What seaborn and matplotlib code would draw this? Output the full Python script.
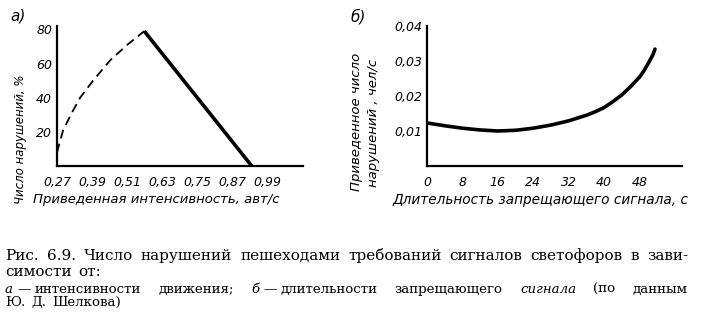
import matplotlib
matplotlib.use("Agg")
import matplotlib.pyplot as plt
import seaborn as sns
import pandas as pd

# ---- data (panel а) ----
a_dash_x = [0.27, 0.291, 0.32, 0.349, 0.393, 0.452, 0.51, 0.568]
a_dash_y = [8, 21, 31, 40, 50, 62, 71, 79]
a_solid_x = [0.568, 0.935]
a_solid_y = [79, 0]
a_xticks = [0.27, 0.39, 0.51, 0.63, 0.75, 0.87, 0.99]
a_xticklabels = ["0,27", "0,39", "0,51", "0,63", "0,75", "0,87", "0,99"]
a_yticks = [20, 40, 60, 80]
a_yticklabels = ["20", "40", "60", "80"]

# ---- data (panel б) ----
b_x = [0, 4, 8, 12, 16, 20, 24, 28, 32, 36, 38, 40, 42, 44, 46, 48, 49, 50, 51, 51.5]
b_y = [0.0123, 0.0115, 0.0108, 0.0103, 0.0100, 0.0102, 0.0108, 0.0117,
       0.0129, 0.0145, 0.0155, 0.0167, 0.0184, 0.0203, 0.0227, 0.0254,
       0.0272, 0.0294, 0.0317, 0.0334]
b_xticks = [0, 8, 16, 24, 32, 40, 48]
b_xticklabels = ["0", "8", "16", "24", "32", "40", "48"]
b_yticks = [0.01, 0.02, 0.03, 0.04]
b_yticklabels = ["0,01", "0,02", "0,03", "0,04"]

W, H = 704, 315
sns.set_theme(style="white")
plt.rcParams["font.family"] = ["DejaVu Sans"]
plt.rcParams["text.color"] = "black"

fig = plt.figure(figsize=(W / 100, H / 100), dpi=100)

def px_axes(x0, x1, ytop, ybot):
    return fig.add_axes([x0 / W, 1 - ybot / H, (x1 - x0) / W, (ybot - ytop) / H])

def style_axes(ax):
    for s in ["top", "right"]:
        ax.spines[s].set_visible(False)
    for s in ["left", "bottom"]:
        ax.spines[s].set_linewidth(1.6)
        ax.spines[s].set_color("black")
    ax.tick_params(direction="in", length=4, width=1.2, colors="black",
                   labelsize=9)
    ax.tick_params(axis="x", pad=7)
    ax.tick_params(axis="y", pad=3.5)
    for lab in ax.get_xticklabels() + ax.get_yticklabels():
        lab.set_fontstyle("italic")

# panel а
ax1 = px_axes(57, 303, 26, 166)
df_ad = pd.DataFrame({"x": a_dash_x, "y": a_dash_y})
df_as = pd.DataFrame({"x": a_solid_x, "y": a_solid_y})
sns.lineplot(data=df_ad, x="x", y="y", ax=ax1, color="black", lw=1.3,
             linestyle=(0, (5, 3)), sort=False)
sns.lineplot(data=df_as, x="x", y="y", ax=ax1, color="black", lw=2.6,
             sort=False, solid_capstyle="butt")
ax1.set_xlim(0.27, 1.11)
ax1.set_ylim(0, 82)
ax1.set_xticks(a_xticks)
ax1.set_xticklabels(a_xticklabels)
ax1.set_yticks(a_yticks)
ax1.set_yticklabels(a_yticklabels)
ax1.set_xlabel("")
ax1.set_ylabel("")
style_axes(ax1)

# panel б
ax2 = px_axes(427, 682, 26, 166)
df_b = pd.DataFrame({"x": b_x, "y": b_y})
sns.lineplot(data=df_b, x="x", y="y", ax=ax2, color="black", lw=2.6)
ax2.set_xlim(0, 57.6)
ax2.set_ylim(0, 0.04)
ax2.set_xticks(b_xticks)
ax2.set_xticklabels(b_xticklabels)
ax2.set_yticks(b_yticks)
ax2.set_yticklabels(b_yticklabels)
ax2.set_xlabel("")
ax2.set_ylabel("")
style_axes(ax2)

def ftext(x, y, s, **kw):
    kw.setdefault("color", "black")
    return fig.text(x / W, 1 - y / H, s, **kw)

it = dict(family="DejaVu Sans", style="italic")
# panel labels
ftext(18, 16, "а)", size=11, ha="center", va="center", **it)
ftext(358, 17, "б)", size=11, ha="center", va="center", **it)

# axis labels
ftext(156, 200, "Приведенная интенсивность, авт/с", ha="center", va="center", size=9.5, **it)
ftext(21, 139, "Число нарушений, %", ha="center", va="center", rotation=90, size=8.5, **it)
ftext(540, 200, "Длительность запрещающего сигнала, с", ha="center", va="center", size=9.8, **it)
ftext(356, 122, "Приведенное число", ha="center", va="center", rotation=90, size=9.5, **it)
ftext(373, 123, "нарушений , чел/с", ha="center", va="center", rotation=90, size=9.5, **it)

# caption with justification
renderer = fig.canvas.get_renderer()
cap_family = "DejaVu Serif"

def place_line(groups, y, x0, x1, size, justify=True, sp=4):
    items = []
    widths = []
    for g in groups:
        pieces = []
        gw = 0
        for j, (s, st) in enumerate(g):
            t = ftext(0, y, s, family=cap_family, style=st, size=size, va="baseline", ha="left")
            w = t.get_window_extent(renderer).width
            pieces.append((t, w))
            gw += w + (sp if j < len(g) - 1 else 0)
        items.append(pieces)
        widths.append(gw)
    n = len(groups)
    if justify and n > 1:
        gap = (x1 - x0 - sum(widths)) / (n - 1)
    else:
        gap = sp
    x = x0
    for pieces, gw in zip(items, widths):
        xx = x
        for t, w in pieces:
            t.set_x(xx / W)
            xx += w + sp
        x += gw + gap

N = "normal"
I = "italic"
line1 = "Рис. 6.9. Число нарушений пешеходами требований сигналов светофоров в зави-".split()
place_line([[(w, N)] for w in line1], 260, 5, 688, 11)
place_line([[("симости", N)], [("от:", N)]], 276, 5, 688, 11, justify=False, sp=7)
line3 = [[("а", I), ("—", N), ("интенсивности", N)], [("движения;", N)],
         [("б", I), ("—", N), ("длительности", N)], [("запрещающего", N)],
         [("сигнала", I)], [("(по", N)], [("данным", N)]]
place_line(line3, 293, 5, 688, 9.6)
place_line([[("Ю.", N)], [("Д.", N)], [("Шелкова)", N)]], 306, 5, 688, 9.6, justify=False, sp=6)

fig.savefig("out.png", dpi=100)
